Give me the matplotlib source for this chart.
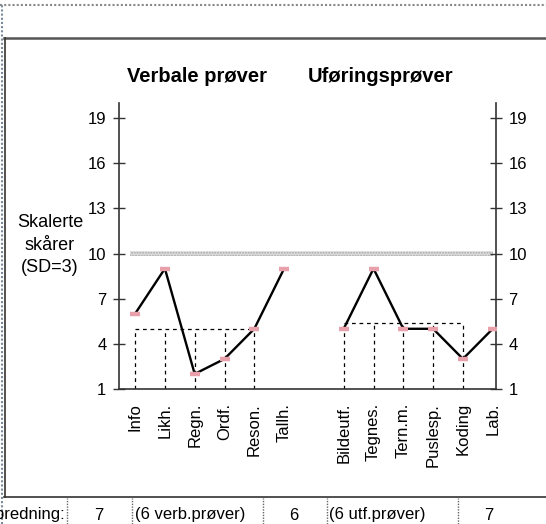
import numpy as np
import matplotlib
matplotlib.use("Agg")
import matplotlib.pyplot as plt
from matplotlib.lines import Line2D

plt.rcParams["font.family"] = ["Liberation Sans", "DejaVu Sans"]

# data
verb_labels = ["Info", "Likh.", "Regn.", "Ordf.", "Reson.", "Tallh."]
verb_vals = [6, 9, 2, 3, 5, 9]
utf_labels = ["Bildeutf.", "Tegnes.", "Tern.m.", "Puslesp.", "Koding", "Lab."]
utf_vals = [5, 9, 5, 5, 3, 5]
yticks = [1, 4, 7, 10, 13, 16, 19]
spredning = ["7", "(6 verb.prøver)", "6", "(6 utf.prøver)", "7"]

verb_x = np.arange(len(verb_labels))
utf_x = np.arange(len(utf_labels)) + len(verb_labels) + 1

fig = plt.figure(figsize=(5.46, 5.24), dpi=100)
ax = fig.add_axes([119 / 546, 1 - 389 / 524, 377 / 546, 286 / 524])

# gjennomsnittsbånd rundt 10
ax.fill_between([-0.17, 12.0], 9.83, 10.17, facecolor="#e2e2e2",
                hatch="......", edgecolor="#a8a8a8", linewidth=0, zorder=1)

# stiplede "bokser" for gjennomsnitt av 5 prøver
for xs, vals in [(verb_x[:5], verb_vals[:5]), (utf_x[:5], utf_vals[:5])]:
    m = np.mean(vals)
    ax.plot([xs[0], xs[-1]], [m, m], color="black", lw=0.9, ls=(0, (3, 3)), zorder=2)
    for x in xs:
        ax.plot([x, x], [1, m], color="black", lw=0.9, ls=(0, (3, 3)), zorder=2)

for xs, vals in [(verb_x, verb_vals), (utf_x, utf_vals)]:
    ax.plot(xs, vals, color="black", lw=1.7, zorder=3)
    ax.plot(xs, vals, ls="none", marker="_", ms=7, mew=3.2, color="#e8a0aa", zorder=4)

ax.set_xlim(-0.54, 12.11)
ax.set_ylim(1, 20)
ax.set_yticks(yticks)
ax.set_xticks(list(verb_x) + list(utf_x))
ax.set_xticklabels(verb_labels + utf_labels, rotation=90, fontsize=12)
ax.tick_params(axis="x", length=0, pad=10)
ax.tick_params(axis="y", direction="inout", length=8, width=1, color="#333333",
               labelsize=12, pad=5, right=True, labelright=True)
ax.spines["top"].set_visible(False)
for s in ["left", "right", "bottom"]:
    ax.spines[s].set_color("#333333")
    ax.spines[s].set_linewidth(1.2)

fig.text(197 / 546, 1 - 76 / 524, "Verbale prøver", ha="center", va="center",
         fontsize=14.5, fontweight="bold")
fig.text(381 / 546, 1 - 76 / 524, "Uføringsprøver", ha="center", va="center",
         fontsize=14.5, fontweight="bold")
fig.text(50 / 546, 1 - 245 / 524, "Skalerte\nskårer\n(SD=3)", ha="center", va="center",
         fontsize=13, linespacing=1.4)

# ramme
fig.add_artist(Line2D([0, 1], [1 - 5 / 524] * 2, color="#888888", lw=1.5, ls=(0, (1, 1))))
fig.add_artist(Line2D([2 / 546] * 2, [0, 1 - 5 / 524], color="#7a8a9a", lw=1.5, ls=(0, (1, 1))))
fig.add_artist(Line2D([4 / 546, 1], [1 - 38 / 524] * 2, color="#555555", lw=1.8))
fig.add_artist(Line2D([5 / 546] * 2, [1 - 497 / 524, 1 - 38 / 524], color="#333333", lw=1.2))
fig.add_artist(Line2D([4 / 546, 1], [1 - 497 / 524] * 2, color="#333333", lw=1.2))

# spredningsrad
yb = 1 - 515 / 524
fig.text(65 / 546, yb, "Spredning:", ha="right", va="center", fontsize=12)
for xp in [67, 132, 263, 327, 458]:
    fig.add_artist(Line2D([xp / 546] * 2, [0, 1 - 498 / 524], color="#666666", lw=1, ls=(0, (1, 1))))
for txt, xp, ha in zip(spredning, [99, 135, 294, 329, 489], ["center", "left", "center", "left", "center"]):
    fig.text(xp / 546, yb, txt, ha=ha, va="center", fontsize=12)

fig.savefig("out.png", dpi=100)
